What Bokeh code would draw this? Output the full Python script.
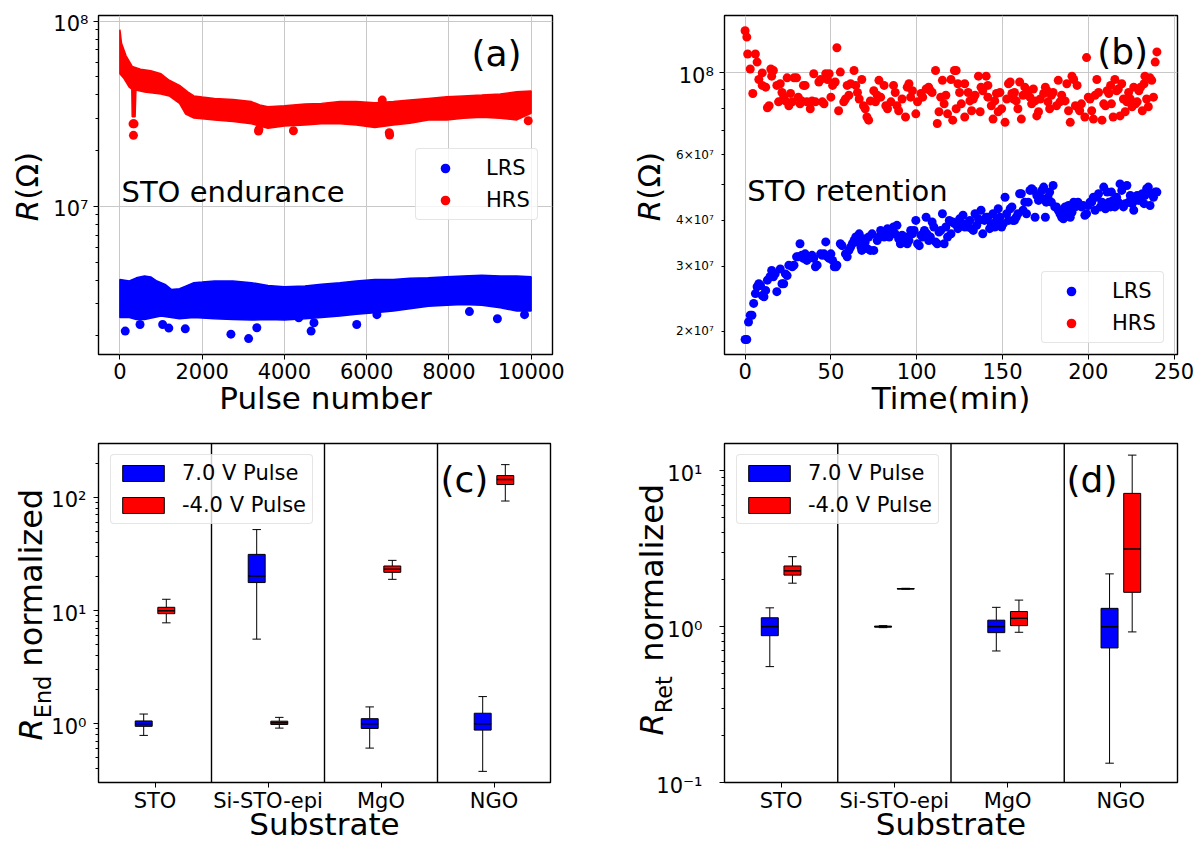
import math
from bokeh.plotting import figure
from bokeh.models import (Range1d, FixedTicker, CustomJSTickFormatter, Label, Legend,
                          LegendItem, Span, ColumnDataSource)
from bokeh.layouts import row, column
from bokeh.embed import file_html
from bokeh.resources import INLINE

FONT = "DejaVu Sans"
BLUE = "#0000ff"
RED = "#ff0000"

# ---------------- (a) STO endurance: band edges + isolated points ----------------
end_hrs_top_pulse = [0, 40, 150, 300, 500, 750, 1000, 1200, 1450, 1650, 1800, 2000, 2300, 2750, 3200, 3400,
                     3600, 4000, 4500, 4900, 5350, 5750, 6200, 6650, 7050, 7500, 7950, 8350, 8800, 9250, 9650, 10000]
end_hrs_top_R = [9.0e7, 7.6e7, 6.5e7, 5.7e7, 5.5e7, 5.4e7, 5.2e7, 4.8e7, 4.5e7, 4.15e7, 3.95e7, 3.9e7, 3.83e7,
                 3.78e7, 3.68e7, 3.53e7, 3.45e7, 3.49e7, 3.57e7, 3.6e7, 3.68e7, 3.68e7, 3.63e7, 3.68e7, 3.75e7,
                 3.83e7, 3.91e7, 3.95e7, 3.99e7, 4.04e7, 4.16e7, 4.2e7]
end_hrs_bot_pulse = [0, 100, 230, 290, 300, 370, 390, 600, 1000, 1200, 1450, 1600, 1800, 2000, 2300, 2750, 3200,
                     3600, 4000, 4500, 4900, 5350, 5750, 6200, 6650, 7050, 7500, 7950, 8350, 8800, 9250, 9650, 10000]
end_hrs_bot_R = [5.2e7, 4.9e7, 4.4e7, 4.3e7, 3.05e7, 3.05e7, 4.25e7, 4.15e7, 4.05e7, 3.95e7, 3.6e7, 3.15e7, 3.0e7,
                 2.97e7, 2.93e7, 2.87e7, 2.79e7, 2.64e7, 2.72e7, 2.75e7, 2.79e7, 2.79e7, 2.75e7, 2.67e7, 2.75e7,
                 2.81e7, 2.93e7, 2.93e7, 2.99e7, 3.03e7, 2.99e7, 2.93e7, 3.18e7]
end_lrs_top_pulse = [0, 230, 400, 600, 750, 900, 1100, 1250, 1450, 1600, 1800, 2000, 2300, 2750, 3200, 3600, 4000,
                     4500, 4900, 5350, 5750, 6200, 6650, 7050, 7500, 7950, 8350, 8800, 9250, 9650, 10000]
end_lrs_top_R = [4.03e6, 3.95e6, 4.11e6, 4.2e6, 4.16e6, 3.95e6, 3.79e6, 3.56e6, 3.59e6, 3.71e6, 3.87e6, 3.9e6,
                 3.95e6, 3.95e6, 3.87e6, 3.74e6, 3.68e6, 3.71e6, 3.79e6, 3.87e6, 3.95e6, 4.03e6, 4.03e6, 4.09e6,
                 4.11e6, 4.16e6, 4.2e6, 4.24e6, 4.2e6, 4.2e6, 4.16e6]
end_lrs_bot_pulse = [0, 230, 400, 600, 1000, 1450, 1800, 2300, 2750, 3200, 3600, 4000, 4500, 4900, 5350, 5750,
                     6200, 6650, 7050, 7500, 7950, 8350, 8800, 9250, 9650, 10000]
end_lrs_bot_R = [2.51e6, 2.51e6, 2.45e6, 2.45e6, 2.56e6, 2.47e6, 2.51e6, 2.47e6, 2.45e6, 2.43e6, 2.45e6, 2.43e6,
                 2.47e6, 2.51e6, 2.56e6, 2.61e6, 2.66e6, 2.72e6, 2.8e6, 2.89e6, 2.92e6, 2.95e6, 2.92e6, 2.83e6,
                 2.72e6, 2.72e6]
end_hrs_pts_pulse = [330, 320, 345, 3380, 3370, 4220, 6550, 6560, 6380, 9930]
end_hrs_pts_R = [2.42e7, 2.79e7, 2.79e7, 2.6e7, 2.55e7, 2.56e7, 2.5e7, 2.43e7, 3.75e7, 2.9e7]
end_lrs_pts_pulse = [130, 490, 1040, 1190, 1590, 2700, 3130, 3330, 4350, 4650, 4720, 5760, 6250, 8500, 9180, 9840]
end_lrs_pts_R = [2.12e6, 2.3e6, 2.3e6, 2.2e6, 2.18e6, 2.04e6, 1.93e6, 2.21e6, 2.5e6, 2.12e6, 2.35e6, 2.3e6,
                 2.6e6, 2.7e6, 2.47e6, 2.6e6]

# ---------------- (b) STO retention (R in units of 1e7 Ohm) ----------------
ret_hrs_t = [0, 1, 1.5, 3, 4.5, 6, 7, 8, 10, 10, 12, 13, 14, 15, 15.5, 16.5, 18.5, 19.5, 20.5, 21.5, 22.5, 23.5,
             24.5, 25.5, 26.5, 27.5, 28.5, 30, 31, 32, 33, 34, 35, 36, 38, 39, 40, 41, 43, 44, 45, 46, 47, 48, 49,
             50, 51, 52.5, 53.5, 54.5, 55.5, 57.5, 58.5, 59.5, 60.5, 61.5, 63.5, 64.5, 65.5, 66.5, 68, 69, 70, 71,
             72, 73, 75, 76, 77, 78, 79, 81, 82, 83, 85, 86.5, 87.5, 88.5, 89.5, 91.5, 93.5, 94.5, 95.5, 96.5,
             97.5, 99.5, 100.5, 102.5, 103.5, 105.5, 107, 108, 109, 111, 112, 113, 114, 115, 116, 117, 118, 120,
             121, 122, 123, 123, 124, 125, 126, 128, 128, 130, 131, 132, 133, 134, 136, 137, 137.5, 138.5, 140.5,
             141.5, 141.5, 143.5, 144.5, 145.5, 146.5, 147.5, 148.5, 149.5, 151.5, 152.5, 153.5, 154.5, 155.5,
             156.5, 157, 158, 159, 160, 161, 162, 163, 165, 166, 167, 168, 169, 170, 171, 172, 174, 175, 176,
             176.5, 177.5, 178.5, 179.5, 181.5, 182.5, 183.5, 184.5, 186.5, 187.5, 188.5, 189.5, 190.5, 191.5,
             192.5, 193.5, 194.5, 195, 196, 198, 199, 200, 201, 202, 203, 204, 205, 206, 208, 209, 210, 211, 212,
             213, 213.5, 214.5, 215.5, 216.5, 217.5, 218.5, 219.5, 220.5, 221.5, 222.5, 223.5, 224.5, 225.5,
             226.5, 227.5, 228.5, 229.5, 230.5, 231.5, 232.5, 233, 234, 235, 236, 237, 238, 239, 240]
ret_hrs_R7 = [13.0, 12.5, 11.25, 10.25, 8.8, 11.25, 10.7, 9.6, 10.0, 9.25, 9.15, 8.05, 8.15, 10.25, 9.8, 10.15,
              9.25, 8.35, 9.35, 8.85, 8.6, 8.4, 9.7, 8.15, 8.8, 8.35, 9.7, 9.7, 8.6, 8.25, 8.4, 9.25, 9.25, 8.35,
              8.0, 8.4, 9.95, 8.35, 9.45, 9.6, 8.35, 8.25, 9.95, 9.6, 9.95, 8.6, 9.25, 9.45, 11.7, 7.9, 10.05,
              8.35, 8.5, 9.25, 8.7, 9.35, 10.15, 9.25, 8.85, 8.5, 9.6, 8.15, 8.0, 7.6, 7.45, 8.4, 8.95, 8.35, 8.7,
              9.55, 8.6, 9.25, 8.15, 8.0, 8.35, 9.25, 8.85, 8.15, 7.9, 8.5, 7.6, 9.15, 9.35, 8.6, 8.95, 7.75,
              8.35, 8.8, 8.6, 9.05, 9.15, 8.95, 8.85, 10.15, 7.3, 7.85, 8.6, 9.55, 8.25, 8.7, 7.75, 9.6, 7.45,
              10.15, 10.15, 8.0, 9.35, 8.85, 8.25, 9.35, 7.6, 8.85, 8.4, 7.9, 8.5, 8.7, 9.8, 7.85, 9.15, 8.95,
              9.8, 9.25, 8.6, 8.15, 7.5, 8.4, 8.8, 7.85, 8.85, 8.0, 7.35, 8.5, 9.35, 9.45, 8.8, 8.5, 8.85, 8.4,
              8.0, 9.45, 7.5, 8.7, 9.15, 8.95, 8.6, 8.25, 9.05, 8.4, 7.65, 7.85, 8.5, 8.8, 9.15, 8.95, 8.35, 8.0,
              8.7, 8.85, 8.15, 9.55, 8.35, 8.7, 8.4, 9.35, 7.9, 7.35, 9.8, 9.6, 8.15, 9.25, 8.0, 7.9, 8.25, 7.6,
              11.0, 8.6, 8.5, 7.9, 7.5, 8.7, 9.6, 8.85, 7.45, 8.25, 8.15, 8.95, 8.8, 9.25, 8.25, 7.6, 9.6, 8.95,
              9.05, 7.65, 9.35, 8.5, 7.85, 8.35, 8.85, 8.5, 8.1, 9.15, 8.25, 8.35, 8.95, 9.15, 7.9, 9.35, 9.8,
              8.5, 8.1, 9.7, 9.55, 8.6, 10.7, 11.4]
ret_lrs_t = [0, 1, 2, 3, 4, 5, 6, 7, 8, 9, 10, 11, 12, 13, 14.5, 15.5, 16.5, 17.5, 18.5, 20.5, 21.5, 22.5, 23.5,
             24.5, 25.5, 27.5, 28.5, 30, 31, 32, 33, 34, 35, 36, 38, 39, 40, 41, 42, 44, 45, 46, 47, 48, 49, 50,
             51, 52, 53, 53.5, 55.5, 56.5, 58.5, 59.5, 60.5, 61.5, 62.5, 63.5, 64.5, 65.5, 66.5, 67.5, 68, 69,
             70, 71, 72, 73, 74, 75, 77, 78, 79, 80, 81, 82, 83, 84, 85, 86.5, 87.5, 88.5, 89.5, 90.5, 91.5, 92.5,
             93.5, 94.5, 95.5, 96.5, 97.5, 98.5, 99.5, 100.5, 101.5, 102.5, 103.5, 104.5, 105.5, 106, 107, 108,
             109, 110, 111, 112, 113, 114, 115, 116, 117, 118, 119, 120, 121, 122, 123, 124, 125, 126, 127, 128,
             129, 130, 131, 132, 133, 134, 135, 136, 136.5, 137.5, 138.5, 139.5, 140.5, 141.5, 142.5, 143.5,
             144.5, 145.5, 146.5, 147.5, 148.5, 149.5, 150.5, 151.5, 152.5, 153.5, 154.5, 155.5, 156, 157, 158,
             159, 160, 161, 162, 163, 164, 165, 166, 167, 168, 169, 170, 171, 172, 173, 174, 175, 175.5, 176.5,
             177.5, 178.5, 179.5, 180.5, 181.5, 182.5, 183.5, 184.5, 185.5, 186.5, 187.5, 188.5, 189.5, 190.5,
             191.5, 192.5, 193.5, 194, 195, 196, 197, 198, 199, 200, 201, 202, 203, 204, 205, 206, 207, 208, 209,
             210, 211, 212, 213, 213.5, 214.5, 215.5, 216.5, 217.5, 218.5, 219.5, 220.5, 221.5, 222.5, 223.5,
             224.5, 225.5, 226.5, 227.5, 228.5, 229.5, 230.5, 231.5, 232.5, 233, 234, 235, 236, 237, 238, 239, 240]
ret_lrs_R7 = [1.90, 1.90, 2.12, 2.21, 2.21, 2.38, 2.53, 2.64, 2.69, 2.66, 2.50, 2.48, 2.58, 2.75, 2.81, 2.92,
              2.81, 2.86, 2.56, 2.95, 2.69, 2.69, 2.86, 2.83, 3.02, 2.99, 3.02, 3.18, 3.18, 3.45, 3.21, 3.15,
              3.24, 3.11, 3.18, 3.21, 3.15, 2.99, 3.02, 3.24, 3.21, 3.24, 3.49, 3.18, 3.15, 3.24, 3.11, 2.99,
              2.99, 3.02, 3.45, 3.41, 3.24, 3.18, 3.31, 3.38, 3.45, 3.52, 3.60, 3.49, 3.67, 3.38, 3.31, 3.56,
              3.49, 3.35, 3.60, 3.31, 3.67, 3.31, 3.52, 3.60, 3.75, 3.67, 3.60, 3.67, 3.79, 3.60, 3.75, 3.83,
              3.67, 3.87, 3.56, 3.45, 3.64, 3.49, 3.60, 3.45, 3.52, 3.75, 3.67, 3.75, 3.99, 3.45, 3.41, 3.64,
              3.60, 3.75, 4.07, 3.67, 3.52, 3.60, 3.95, 3.83, 3.49, 3.45, 3.71, 3.75, 4.16, 3.45, 3.83, 3.60,
              3.99, 3.67, 3.95, 3.91, 3.91, 3.79, 4.03, 3.91, 4.12, 3.83, 3.91, 3.83, 3.99, 3.79, 3.75, 4.16,
              3.87, 4.03, 3.99, 4.25, 3.67, 3.99, 4.07, 4.07, 3.79, 3.91, 4.16, 3.83, 3.99, 4.29, 4.07, 3.83,
              3.91, 4.61, 4.16, 3.99, 4.29, 4.34, 3.99, 3.99, 4.07, 4.16, 4.71, 4.71, 4.25, 4.47, 4.16, 4.47,
              4.81, 4.86, 4.81, 4.07, 4.66, 4.52, 4.61, 4.81, 4.91, 4.07, 4.47, 4.61, 4.76, 4.47, 4.96, 4.34,
              4.34, 4.25, 4.16, 4.07, 4.03, 4.34, 4.20, 4.38, 4.07, 4.20, 4.47, 4.34, 4.43, 4.47, 4.38, 4.34,
              4.38, 4.12, 4.16, 4.38, 4.47, 4.47, 4.61, 4.25, 4.61, 4.71, 4.34, 4.47, 4.91, 4.29, 4.76, 4.47,
              4.34, 4.76, 4.52, 4.34, 4.61, 4.47, 5.01, 4.81, 4.34, 4.43, 4.96, 4.47, 4.66, 4.43, 4.25, 4.52,
              4.66, 4.52, 4.61, 4.71, 4.43, 4.66, 4.86, 4.91, 4.38, 4.71, 4.61, 4.76, 4.76]

# ---------------- (c) / (d) box statistics ----------------
categories = ["STO", "Si-STO-epi", "MgO", "NGO"]
end_p_wlo = [0.79, 5.6, 0.61, 0.38]
end_p_q1 = [0.95, 17.7, 0.91, 0.88]
end_p_med = [1.0, 20.2, 1.0, 1.0]
end_p_q3 = [1.06, 31.4, 1.11, 1.24]
end_p_whi = [1.22, 52.0, 1.41, 1.74]
end_n_wlo = [7.8, 0.916, 18.9, 93.0]
end_n_q1 = [9.4, 0.987, 21.8, 130.0]
end_n_med = [10.0, 1.02, 23.2, 144.0]
end_n_q3 = [10.7, 1.055, 24.8, 156.0]
end_n_whi = [12.6, 1.14, 27.8, 195.0]
ret_p_wlo = [0.554, 0.985, 0.698, 0.133]
ret_p_q1 = [0.875, 0.993, 0.915, 0.73]
ret_p_med = [1.0, 1.0, 1.0, 1.0]
ret_p_q3 = [1.14, 1.007, 1.10, 1.31]
ret_p_whi = [1.32, 1.015, 1.33, 2.18]
ret_n_wlo = [1.90, 1.738, 0.92, 0.925]
ret_n_q1 = [2.14, 1.745, 1.015, 1.66]
ret_n_med = [2.28, 1.75, 1.13, 3.15]
ret_n_q3 = [2.45, 1.755, 1.25, 7.16]
ret_n_whi = [2.81, 1.762, 1.48, 12.6]

SUP = {"-": "\u207b", "0": "\u2070", "1": "\u00b9", "2": "\u00b2", "3": "\u00b3", "4": "\u2074",
       "5": "\u2075", "6": "\u2076", "7": "\u2077", "8": "\u2078", "9": "\u2079"}


def pow10_label(v):
    e = int(round(math.log10(v)))
    return "10" + "".join(SUP[c] for c in str(e))


def minor_log(lo_e, hi_e):
    return [k * 10.0 ** e for e in range(lo_e, hi_e + 1) for k in range(2, 10)]


def no_align(p):
    try:
        p.frame_align = False
    except Exception:
        pass


def make_fig(w, h, bl, br, bt, bb, xr, yr):
    p = figure(width=w, height=h, x_range=xr, y_range=yr, y_axis_type="log",
               output_backend="svg", toolbar_location=None,
               min_border_left=bl, min_border_right=br, min_border_top=bt, min_border_bottom=bb)
    no_align(p)
    p.outline_line_color = "black"
    p.outline_line_width = 1.4
    p.background_fill_color = "white"
    p.border_fill_color = "white"
    for ax in (p.xaxis[0], p.yaxis[0]):
        ax.axis_line_color = None
        ax.major_tick_line_color = "black"
        ax.major_tick_out = 5
        ax.major_tick_in = 0
        ax.minor_tick_line_color = "black"
        ax.minor_tick_out = 3
        ax.minor_tick_in = 0
        ax.major_label_text_font = FONT
        ax.major_label_text_font_size = "21px"
        ax.major_label_text_color = "black"
    p.xaxis.minor_tick_line_color = None
    p.xaxis.axis_label_text_font = FONT
    p.xaxis.axis_label_text_font_size = "31px"
    p.xaxis.axis_label_text_font_style = "normal"
    p.xaxis.axis_label_text_color = "black"
    # y tick labels are written in the side strip (see side_fig)
    p.yaxis.formatter = CustomJSTickFormatter(code="return '';")
    p.yaxis.major_label_standoff = 0
    return p


def side_fig(width, height, x0, yr, top_b, frame_h, bot_b):
    lo, hi = math.log10(yr.start), math.log10(yr.end)
    lpp = (hi - lo) / frame_h
    s = figure(width=width, height=height, x_range=Range1d(x0, x0 + width),
               y_range=Range1d(10 ** (lo - bot_b * lpp), 10 ** (hi + top_b * lpp)), y_axis_type="log",
               x_axis_location=None, y_axis_location=None, toolbar_location=None,
               output_backend="svg", min_border=0)
    no_align(s)
    s.min_border_left = s.min_border_right = s.min_border_top = s.min_border_bottom = 0
    s.outline_line_color = None
    s.background_fill_color = "white"
    s.border_fill_color = "white"
    s.xgrid.visible = False
    s.ygrid.visible = False
    return s


BASE_SHIFT = 0.4  # baseline correction (fraction of font size) observed for alphabetic text


def add_text(p, x, y, text, size, style="normal", angle=0.0, align="left", baseline="alphabetic",
             xu="screen", yu="screen", yoff=0.0):
    xoff = 0.0
    if baseline == "alphabetic":
        if angle:
            xoff = -BASE_SHIFT * size
        else:
            yoff += BASE_SHIFT * size
    p.add_layout(Label(x=x, y=y, x_units=xu, y_units=yu, text=text, text_font=FONT,
                       text_font_size=f"{size}px", text_font_style=style, angle=angle,
                       text_align=align, text_baseline=baseline, text_color="black",
                       x_offset=xoff, y_offset=yoff))


def style_legend(lg, loc, glyph_w, glyph_h, pad, standoff, spacing):
    lg.location = loc
    lg.margin = 0
    lg.padding = pad
    lg.spacing = spacing
    lg.glyph_width = glyph_w
    lg.glyph_height = glyph_h
    lg.label_height = glyph_h
    lg.label_standoff = standoff
    lg.label_text_font = FONT
    lg.label_text_font_size = "21px"
    lg.label_text_color = "black"
    lg.border_line_color = "#cccccc"
    lg.border_line_width = 1
    lg.background_fill_color = "white"
    lg.background_fill_alpha = 0.8
    try:
        lg.border_radius = 4
    except Exception:
        pass


H1, H2 = 423, 422
UP = math.pi / 2
TICK_YOFF = -3.0

# ======================= (a) =======================
ya = Range1d(1.584e6, 1.074e8)
fa = make_fig(491, H1, 9, 28, 15, 69, Range1d(-520, 10520), ya)
fa.xaxis.ticker = FixedTicker(ticks=[0, 2000, 4000, 6000, 8000, 10000])
fa.xaxis.formatter = CustomJSTickFormatter(code="return tick.toFixed(0);")
fa.xaxis.major_label_standoff = 3
fa.xaxis.axis_label = "Pulse number"
fa.xaxis.axis_label_standoff = -2
fa.yaxis.ticker = FixedTicker(ticks=[1e6, 1e7, 1e8], minor_ticks=minor_log(6, 7))
fa.xgrid.grid_line_color = "#c8c8c8"
fa.ygrid.grid_line_color = "#c8c8c8"
fa.patch(x=end_hrs_top_pulse + end_hrs_bot_pulse[::-1], y=end_hrs_top_R + end_hrs_bot_R[::-1],
         fill_color=RED, line_color=RED, line_width=1.5)
fa.patch(x=end_lrs_top_pulse + end_lrs_bot_pulse[::-1], y=end_lrs_top_R + end_lrs_bot_R[::-1],
         fill_color=BLUE, line_color=BLUE, line_width=1.5)
ra_l = fa.scatter(end_lrs_pts_pulse, end_lrs_pts_R, marker="circle", size=9, fill_color=BLUE, line_color=None)
ra_h = fa.scatter(end_hrs_pts_pulse, end_hrs_pts_R, marker="circle", size=9, fill_color=RED, line_color=None)
lga = Legend(items=[LegendItem(label="LRS", renderers=[ra_l]), LegendItem(label="HRS", renderers=[ra_h])])
style_legend(lga, (317, 134), 44, 24, 7, 19, 8)
fa.add_layout(lga)
add_text(fa, 23, 151, "STO endurance", 29)
add_text(fa, 373, 287, "(a)", 36)

la = side_fig(89, H1, 0, ya, 15, 339, 69)
for v in (1e7, 1e8):
    add_text(la, 88, v, pow10_label(v), 21, align="right", baseline="middle", xu="data", yu="data",
             yoff=TICK_YOFF)
add_text(la, 39, 202.3, "R", 31, style="italic", angle=UP, xu="data")
add_text(la, 39, 223.8, "(\u03a9)", 31, angle=UP, xu="data")

# ======================= (b) =======================
yb = Range1d(1.731e7, 1.43e8)
fb = make_fig(486, H1, 9, 24, 15, 69, Range1d(-12, 252), yb)
fb.xaxis.ticker = FixedTicker(ticks=[0, 50, 100, 150, 200, 250])
fb.xaxis.formatter = CustomJSTickFormatter(code="return tick.toFixed(0);")
fb.xaxis.major_label_standoff = 3
fb.xaxis.axis_label = "Time(min)"
fb.xaxis.axis_label_standoff = -2
fb.yaxis.ticker = FixedTicker(ticks=[1e8], minor_ticks=minor_log(7, 7))
fb.xgrid.grid_line_color = "#c8c8c8"
fb.ygrid.grid_line_color = "#c8c8c8"
rb_l = fb.scatter(ret_lrs_t, [v * 1e7 for v in ret_lrs_R7], marker="circle", size=9,
                  fill_color=BLUE, line_color=None)
rb_h = fb.scatter(ret_hrs_t, [v * 1e7 for v in ret_hrs_R7], marker="circle", size=9,
                  fill_color=RED, line_color=None)
lgb = Legend(items=[LegendItem(label="LRS", renderers=[rb_l]), LegendItem(label="HRS", renderers=[rb_h])])
style_legend(lgb, (317, 11), 44, 24, 7, 19, 8)
fb.add_layout(lgb)
add_text(fb, 22.7, 152, "STO retention", 29)
add_text(fb, 372.7, 289, "(b)", 36)

lb = side_fig(135, H1, 580, yb, 15, 339, 69)
add_text(lb, 713.3, 1e8, pow10_label(1e8), 21, align="right", baseline="middle", xu="data", yu="data",
         yoff=TICK_YOFF)
for m in (2e7, 3e7, 4e7, 6e7):
    add_text(lb, 713.3, m, f"{int(round(m / 1e7))}\u00d710\u2077", 12, align="right", baseline="middle",
             xu="data", yu="data")
add_text(lb, 661, 202.3, "R", 31, style="italic", angle=UP, xu="data")
add_text(lb, 661, 223.8, "(\u03a9)", 31, angle=UP, xu="data")


# ======================= (c), (d) =======================
def draw_boxes(p, off, color, wlo, q1, med, q3, whi):
    xs = [i + 0.5 + off for i in range(len(categories))]
    half_box = 0.075
    half_cap = 0.0375
    src = ColumnDataSource(dict(x=xs, wlo=wlo, q1=q1, med=med, q3=q3, whi=whi,
                                cl=[x - half_cap for x in xs], cr=[x + half_cap for x in xs],
                                bl=[x - half_box for x in xs], br=[x + half_box for x in xs]))
    p.segment(x0="x", y0="wlo", x1="x", y1="q1", source=src, line_color="black", line_width=1)
    p.segment(x0="x", y0="q3", x1="x", y1="whi", source=src, line_color="black", line_width=1)
    p.segment(x0="cl", y0="wlo", x1="cr", y1="wlo", source=src, line_color="black", line_width=1)
    p.segment(x0="cl", y0="whi", x1="cr", y1="whi", source=src, line_color="black", line_width=1)
    r = p.vbar(x="x", width=2 * half_box, bottom="q1", top="q3", source=src,
               fill_color=color, line_color="black", line_width=1)
    p.segment(x0="bl", y0="med", x1="br", y1="med", source=src, line_color="black", line_width=1.5)
    return r


def box_panel(width, br, yr, ticks, minors, stats_p, stats_n, letter):
    p = make_fig(width, H2, 9, br, 20, 63, Range1d(0, 4), yr)
    p.xaxis.ticker = FixedTicker(ticks=[0.5, 1.5, 2.5, 3.5])
    p.xaxis.formatter = CustomJSTickFormatter(args=dict(cats=categories), code="return cats[Math.floor(tick)];")
    p.xaxis.major_label_standoff = 1
    p.xaxis.axis_label = "Substrate"
    p.xaxis.axis_label_standoff = -10
    p.yaxis.ticker = FixedTicker(ticks=ticks, minor_ticks=minors)
    p.xgrid.grid_line_color = None
    p.ygrid.grid_line_color = None
    for loc in (1, 2, 3):
        p.add_layout(Span(location=loc, dimension="height", line_color="black", line_width=1.4))
    rp = draw_boxes(p, -0.1, BLUE, *stats_p)
    rn = draw_boxes(p, 0.1, RED, *stats_n)
    lg = Legend(items=[LegendItem(label="7.0 V Pulse", renderers=[rp]),
                       LegendItem(label="-4.0 V Pulse", renderers=[rn])])
    style_legend(lg, (12, 258), 52, 20, 6, 13, 8)
    p.add_layout(lg)
    add_text(p, 342, 289, letter, 36)
    return p


def box_side(width, x0, yr, ticks, tick_x, sub, base_x, start_up):
    s = side_fig(width, H2, x0, yr, 20, 339, 63)
    for v in ticks:
        add_text(s, tick_x, v, pow10_label(v), 21, align="right", baseline="middle", xu="data", yu="data",
                 yoff=TICK_YOFF)
    f, fs = 32, 22.4
    add_text(s, base_x, start_up, "R", f, style="italic", angle=UP, xu="data")
    add_text(s, base_x + 5 + BASE_SHIFT * (f - fs), start_up + 0.695 * f, sub, fs, angle=UP, xu="data")
    add_text(s, base_x, start_up + 0.695 * f + 1.85 * fs + 0.318 * f, "normalized", f, angle=UP, xu="data")
    return s


yc = Range1d(0.303, 299.7)
fc = box_panel(491, 30, yc, [1, 10, 100], [v for v in minor_log(-1, 2) if 0.303 <= v <= 299.7],
               (end_p_wlo, end_p_q1, end_p_med, end_p_q3, end_p_whi),
               (end_n_wlo, end_n_q1, end_n_med, end_n_q3, end_n_whi), "(c)")
lc = box_side(89, 0, yc, [1, 10, 100], 86, "End", 43, 105)

yd = Range1d(0.1, 14.96)
fd = box_panel(486, 24, yd, [0.1, 1, 10], [v for v in minor_log(-1, 1) if 0.1 <= v <= 14.96],
               (ret_p_wlo, ret_p_q1, ret_p_med, ret_p_q3, ret_p_whi),
               (ret_n_wlo, ret_n_q1, ret_n_med, ret_n_q3, ret_n_whi), "(d)")
ld = box_side(135, 580, yd, [0.1, 1, 10], 702, "Ret", 664, 110)

layout = column(row(la, fa, lb, fb), row(lc, fc, ld, fd))
open("out.html", "w").write(file_html(layout, INLINE))
